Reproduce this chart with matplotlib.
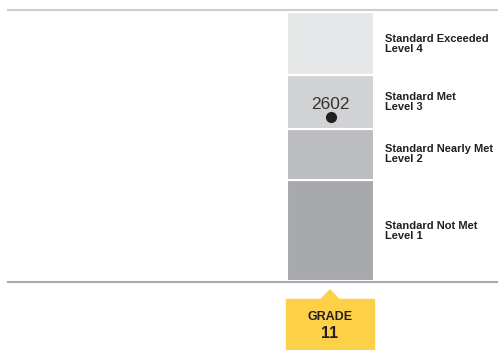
import matplotlib
matplotlib.use("Agg")
import matplotlib.pyplot as plt
from matplotlib.patches import Polygon, Rectangle
from matplotlib.lines import Line2D

# Data
levels = ["Level 1", "Level 2", "Level 3", "Level 4"]
level_names = ["Standard Not Met", "Standard Nearly Met", "Standard Met", "Standard Exceeded"]
thresholds = [2299, 2485, 2580, 2678, 2795]
score = 2602
grade = "11"
colors = ["#a7a9ac", "#bcbdc0", "#d1d2d4", "#e6e7e8"]

W, H = 498, 350
fig = plt.figure(figsize=(W / 100, H / 100), dpi=100)
plt.rcParams['font.family'] = ['Liberation Sans', 'DejaVu Sans']

ax = fig.add_axes([0, (H - 281) / H, 1, 269 / H])
ax.set_xlim(0, W)
ax.set_ylim(thresholds[0], thresholds[-1])
ax.axis("off")

bar_x, bar_w = 330.5, 87
for i in range(4):
    lo, hi = thresholds[i], thresholds[i + 1]
    ax.bar(bar_x, hi - lo, bottom=lo, width=bar_w, color=colors[i],
           edgecolor="white", linewidth=1.5)
    mid = (lo + hi) / 2
    ax.text(385, mid, level_names[i] + "\n" + levels[i], fontsize=8, fontweight="bold",
            color="#231f20", va="center", ha="left", linespacing=1.0)

ax.plot([bar_x], [score], "o", color="#231f20", markersize=7)
ax.annotate(str(score), (bar_x, score), xytext=(0, 3.5), textcoords="offset points",
            ha="center", va="bottom", fontsize=12.5, color="#333333")

# horizontal rules
fig.add_artist(Line2D([8 / W, 1], [1 - 10 / H] * 2, color="#cfcfcf", linewidth=1.5))
fig.add_artist(Line2D([8 / W, 1], [1 - 282 / H] * 2, color="#a9a9a9", linewidth=1.5))

# grade box
yellow = "#fdd147"
x0, x1 = 286 / W, 374 / W
yb0, yb1 = 1 - 352 / H, 1 - 299 / H
fig.add_artist(Rectangle((x0, yb0), x1 - x0, yb1 - yb0, color=yellow, transform=fig.transFigure))
cx = 330 / W
fig.add_artist(Polygon([(cx - 9 / W, yb1 - 0.001), (cx + 9 / W, yb1 - 0.001), (cx, 1 - 290 / H)],
                       closed=True, color=yellow, transform=fig.transFigure))
fig.text(cx, 1 - 316.5 / H, "GRADE", ha="center", va="center", fontsize=9, fontweight="bold", color="#231f20")
fig.text(cx, 1 - 333.5 / H, grade, ha="center", va="center", fontsize=11.5, fontweight="bold", color="#231f20")

fig.savefig("out.png", dpi=100, facecolor="white")
